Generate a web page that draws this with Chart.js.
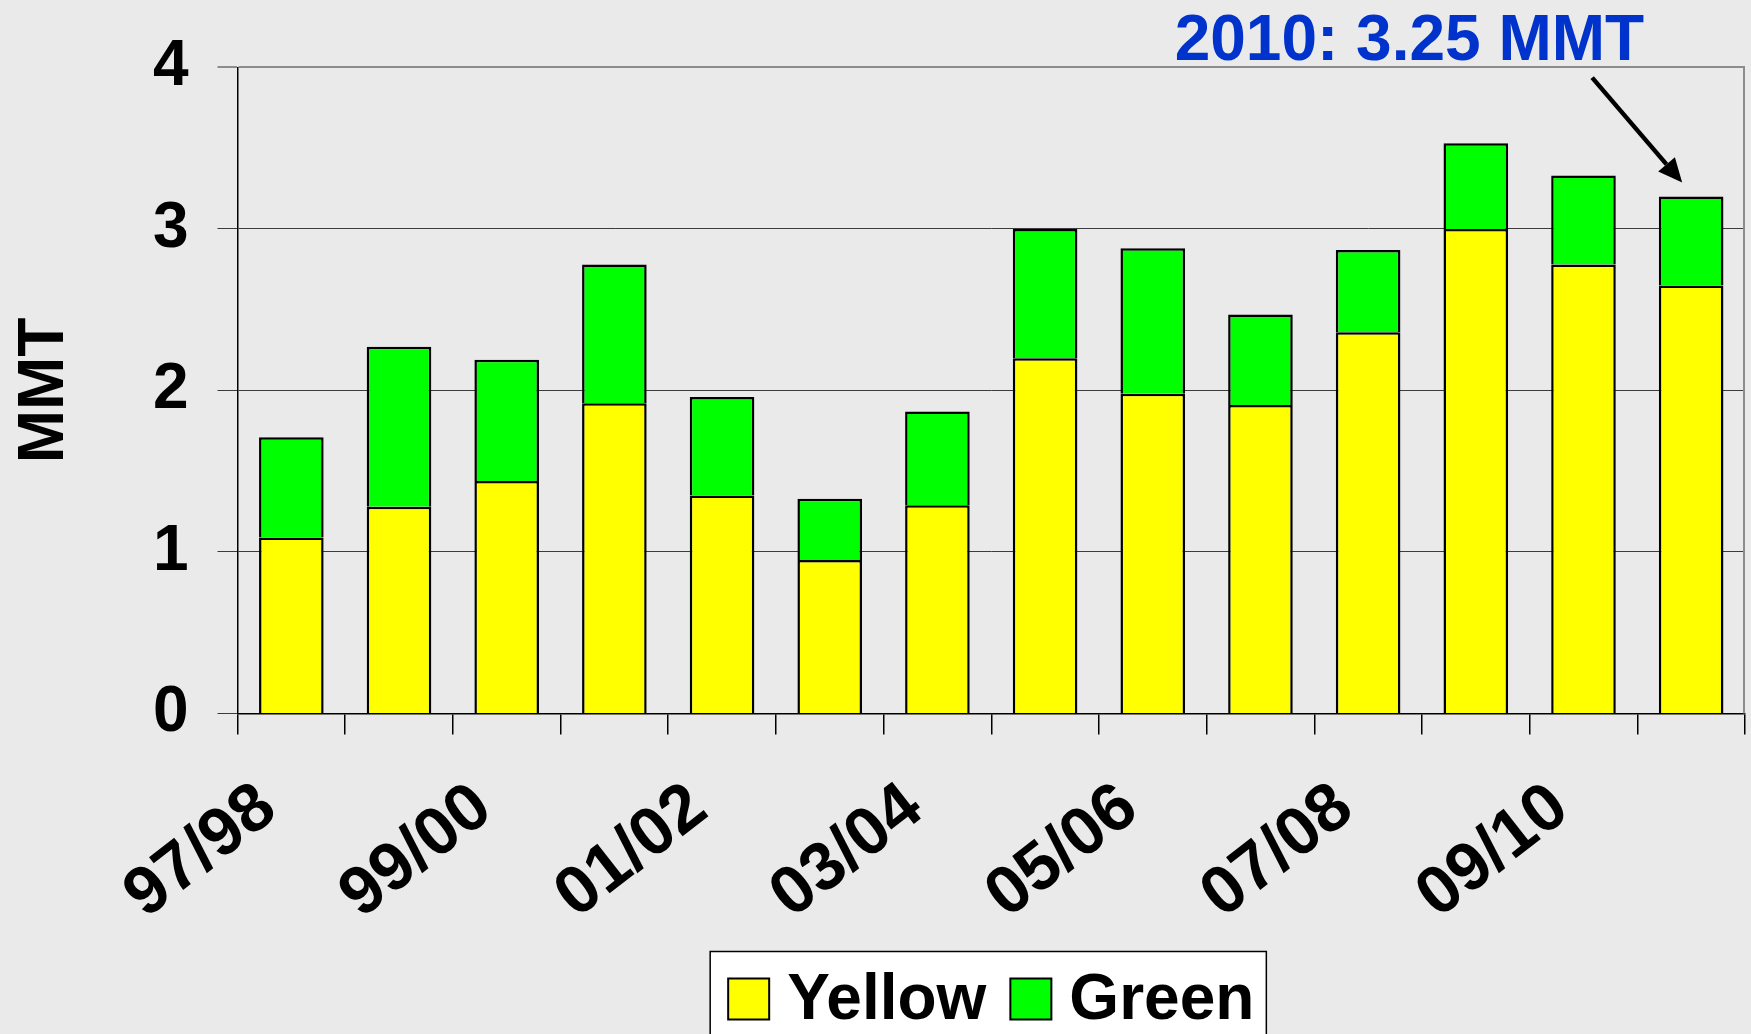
<!DOCTYPE html>
<html>
<head>
<meta charset="utf-8">
<title>MMT by season</title>
<script src="https://cdn.jsdelivr.net/npm/chart.js@4.4.1/dist/chart.umd.min.js"></script>
<style>
  html, body { margin: 0; padding: 0; background: #eaeaea; }
</style>
</head>
<body>
<canvas id="bar-chart" width="1751" height="1034"></canvas>
<script>
'use strict';

// values (MMT)
const seasons = ['97/98', '98/99', '99/00', '00/01', '01/02', '02/03', '03/04',
  '04/05', '05/06', '06/07', '07/08', '08/09', '09/10', '10/11'];
const yellowVals = [1.09, 1.28, 1.44, 1.92, 1.35, 0.95, 1.29, 2.20, 1.98, 1.91, 2.36, 3.00, 2.78, 2.65];
const greenVals = [0.62, 0.99, 0.75, 0.86, 0.61, 0.38, 0.58, 0.80, 0.90, 0.56, 0.51, 0.53, 0.55, 0.55];
const yTicks = [0, 1, 2, 3, 4];
const noteText = '2010: 3.25 MMT';

const FONT = "'Liberation Sans', Arial, Helvetica, sans-serif";
const barCtx = document.getElementById('bar-chart').getContext('2d');

// grey page behind everything
const bgPlugin = {
  id: 'bgPlugin',
  beforeDraw(chart) {
    const ctx = chart.ctx;
    ctx.save();
    ctx.fillStyle = '#eaeaea';
    ctx.fillRect(0, 0, chart.width, chart.height);
    ctx.restore();
  }
};

// right side of the plot frame
const framePlugin = {
  id: 'framePlugin',
  beforeDatasetsDraw(chart) {
    const {ctx, chartArea} = chart;
    ctx.save();
    ctx.strokeStyle = '#8c8c8c';
    ctx.lineWidth = 2;
    ctx.beginPath();
    ctx.moveTo(chartArea.right - 1, chartArea.top);
    ctx.lineTo(chartArea.right - 1, chartArea.bottom);
    ctx.stroke();
    ctx.restore();
  }
};

// legend in a white box under the axis
const legendBox = {
  id: 'legendBox',
  afterDraw(chart) {
    const {ctx, chartArea} = chart;
    const sw = 41, padL = 18, gap = 18, between = 24, padR = 12;
    ctx.save();
    ctx.font = 'bold 64px ' + FONT;
    const items = chart.data.datasets.map(ds => ({
      label: ds.label,
      color: ds.backgroundColor,
      w: ctx.measureText(ds.label).width
    }));
    let total = padL + padR + between * (items.length - 1);
    items.forEach(it => { total += sw + gap + it.w; });
    const left = (chartArea.left + chartArea.right) / 2 - total / 2 - 3;
    const top = chartArea.bottom + 238;
    const h = chart.height - top + 10;
    ctx.fillStyle = '#fff';
    ctx.fillRect(left, top, total, h);
    ctx.strokeStyle = '#000';
    ctx.lineWidth = 1.5;
    ctx.strokeRect(left, top, total, h);

    let x = left + padL;
    items.forEach(it => {
      ctx.fillStyle = it.color;
      ctx.fillRect(x, top + 27, sw, sw);
      ctx.lineWidth = 2;
      ctx.strokeRect(x, top + 27, sw, sw);
      x += sw + gap;
      ctx.fillStyle = '#000';
      ctx.textBaseline = 'alphabetic';
      ctx.textAlign = 'left';
      ctx.fillText(it.label, x, top + 67.5);
      x += it.w + between;
    });
    ctx.restore();
  }
};

// blue note with an arrow pointing at the last bar
const notePlugin = {
  id: 'notePlugin',
  afterDraw(chart) {
    const ctx = chart.ctx;
    const meta = chart.getDatasetMeta(1);
    const bar = meta.data[meta.data.length - 1];
    const tipX = bar.x - 9, tipY = bar.y - 14;
    const startX = tipX - 90, startY = tipY - 105;
    const ang = Math.atan2(tipY - startY, tipX - startX);
    const headLen = 24, headW = 11;
    const baseX = tipX - headLen * Math.cos(ang);
    const baseY = tipY - headLen * Math.sin(ang);

    ctx.save();
    ctx.strokeStyle = '#000';
    ctx.fillStyle = '#000';
    ctx.lineWidth = 4.5;
    ctx.beginPath();
    ctx.moveTo(startX, startY);
    ctx.lineTo(baseX, baseY);
    ctx.stroke();
    ctx.beginPath();
    ctx.moveTo(tipX, tipY);
    ctx.lineTo(baseX + headW * Math.sin(ang), baseY - headW * Math.cos(ang));
    ctx.lineTo(baseX - headW * Math.sin(ang), baseY + headW * Math.cos(ang));
    ctx.closePath();
    ctx.fill();

    ctx.font = 'bold 64px ' + FONT;
    ctx.fillStyle = '#0033cc';
    ctx.textAlign = 'right';
    ctx.textBaseline = 'alphabetic';
    ctx.fillText(noteText, startX + 52, startY - 18);
    ctx.restore();
  }
};

const chart = new Chart(barCtx, {
  type: 'bar',
  data: {
    labels: seasons,
    datasets: [
      {
        label: 'Yellow',
        data: yellowVals,
        backgroundColor: '#ffff00',
        borderColor: '#000',
        borderWidth: 2.5,
        barPercentage: 0.6,
        categoryPercentage: 1
      },
      {
        label: 'Green',
        data: greenVals,
        backgroundColor: '#00ff00',
        borderColor: '#000',
        borderWidth: 2.5,
        barPercentage: 0.6,
        categoryPercentage: 1
      }
    ]
  },
  options: {
    responsive: false,
    animation: false,
    layout: { padding: { top: 67, right: 6, left: 0, bottom: 0 } },
    plugins: {
      legend: { display: false },
      tooltip: { enabled: false }
    },
    scales: {
      x: {
        stacked: true,
        afterFit: s => {
          s.height = 320.5;
          s.paddingLeft = 0;
          s.paddingRight = 0;
        },
        grid: { offset: true, drawOnChartArea: false, tickLength: 21, color: '#000', lineWidth: 1.5 },
        border: { display: true, color: '#000', width: 1.5 },
        ticks: {
          autoSkip: false,
          minRotation: 38,
          maxRotation: 38,
          padding: 33,
          labelOffset: -23,
          color: '#000',
          font: { family: FONT, size: 68, weight: 'bold' },
          callback: (v, i) => (i % 2 === 0 ? seasons[i] : '')
        }
      },
      y: {
        stacked: true,
        min: 0,
        max: 4,
        afterFit: s => { s.width = 237.5; },
        afterBuildTicks: s => { s.ticks = yTicks.map(v => ({ value: v })); },
        grid: {
          tickLength: 20,
          color: c => (c.tick && c.tick.value === 4 ? '#8c8c8c' : '#3c3c3c'),
          lineWidth: c => (c.tick && c.tick.value === 4 ? 2 : 1)
        },
        border: { display: true, color: '#000', width: 1.5 },
        ticks: {
          padding: 29,
          color: '#000',
          font: { family: FONT, size: 64, weight: 'bold' }
        },
        title: {
          display: true,
          text: 'MMT',
          color: '#000',
          padding: { top: 7, bottom: 0 },
          font: { family: FONT, size: 64, weight: 'bold' }
        }
      }
    }
  },
  plugins: [bgPlugin, framePlugin, legendBox, notePlugin]
});
</script>
</body>
</html>
